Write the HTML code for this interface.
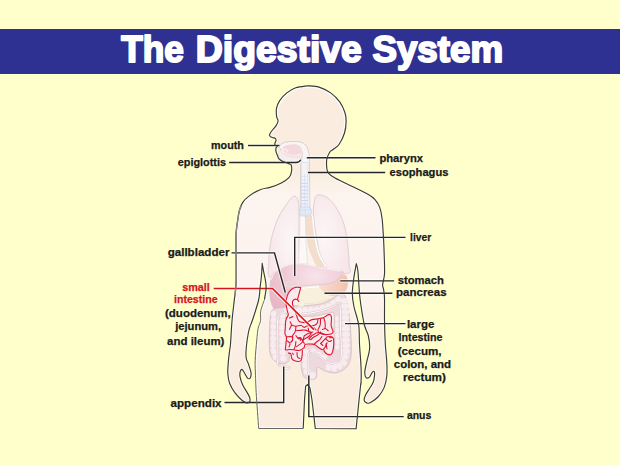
<!DOCTYPE html>
<html><head><meta charset="utf-8"><style>
html,body{margin:0;padding:0;background:#FFFFCC;}
body{width:620px;height:465px;overflow:hidden;position:relative;font-family:"Liberation Sans",sans-serif;}
svg{position:absolute;left:0;top:0;}
</style></head><body>
<svg width="620" height="465" viewBox="0 0 620 465">
<rect x="0" y="0" width="620" height="465" fill="#FFFFCC"/>
<rect x="0" y="29" width="620" height="45" fill="#2E3192"/>
<g font-family="Liberation Sans" font-weight="bold" font-size="37.5" fill="#FFFFFF" stroke="#FFFFFF" stroke-width="2.0" stroke-linejoin="round">
<text x="121.3" y="62.4" textLength="62.6" lengthAdjust="spacingAndGlyphs">The</text>
<text x="195.8" y="62.4" textLength="166.0" lengthAdjust="spacingAndGlyphs">Digestive</text>
<text x="372.5" y="62.4" textLength="130.5" lengthAdjust="spacingAndGlyphs">System</text>
</g>
<defs><linearGradient id="bodyg" gradientUnits="userSpaceOnUse" x1="0" y1="85" x2="0" y2="430">
<stop offset="0.252" stop-color="#FAEDDF"/><stop offset="0.319" stop-color="#FCF4EE"/><stop offset="0.594" stop-color="#FCF3EE"/><stop offset="0.826" stop-color="#FAEDDF"/></linearGradient>
<clipPath id="bodyclip"><path d="M307.4 85.8 C309.3 86.0 315.1 85.9 319.0 87.1 C322.9 88.3 327.2 90.4 330.6 92.9 C334.1 95.4 337.3 98.7 339.7 101.9 C342.1 105.1 343.7 109.1 344.8 112.3 C345.9 115.5 346.2 117.8 346.1 121.3 C346.1 124.8 345.7 129.1 344.5 133.0 C343.3 136.9 340.9 141.8 339.0 144.5 C337.1 147.2 334.5 148.2 333.0 149.5 C331.5 150.8 330.8 150.4 329.8 152.0 C328.8 153.6 327.3 156.9 326.8 159.2 C326.3 161.5 326.5 163.9 326.6 166.0 C326.7 168.1 326.8 169.9 327.5 171.5 C328.2 173.1 328.9 174.0 331.0 175.5 C333.1 177.0 336.4 178.8 340.0 180.6 C343.6 182.4 347.6 184.2 352.3 186.5 C357.0 188.8 364.6 192.3 368.4 194.5 C372.1 196.7 372.9 197.2 374.8 199.4 C376.7 201.6 378.5 204.2 379.7 207.4 C380.9 210.6 381.5 213.8 382.1 218.7 C382.7 223.5 383.0 230.4 383.4 236.5 C383.8 242.6 384.0 248.8 384.2 255.0 C384.4 261.2 384.8 269.1 384.5 274.0 C384.2 278.9 382.8 282.1 382.6 284.7 C382.5 287.3 383.3 287.2 383.6 289.5 C383.9 291.8 384.4 293.3 384.5 298.4 C384.6 303.5 384.4 312.4 384.5 320.0 C384.6 327.6 384.9 337.1 385.3 344.2 C385.7 351.3 386.6 357.6 386.8 362.9 C387.1 368.2 387.2 371.7 386.8 375.8 C386.4 379.9 385.6 383.9 384.2 387.4 C382.8 390.8 380.7 394.0 378.4 396.5 C376.1 399.0 372.5 401.5 370.6 402.6 C368.7 403.7 367.9 403.3 366.8 402.9 C365.7 402.5 364.4 401.6 364.2 400.3 C364.0 399.0 364.6 397.1 365.5 395.2 C366.4 393.3 368.1 390.8 369.4 388.7 C370.7 386.6 372.3 384.4 373.2 382.3 C374.1 380.2 374.3 377.6 374.5 375.8 C374.7 374.0 374.6 372.1 374.2 371.5 C373.8 370.9 373.2 371.3 372.4 372.2 C371.6 373.1 370.4 376.2 369.4 377.1 C368.3 378.0 366.9 378.6 366.1 377.7 C365.3 376.8 364.7 374.7 364.8 372.0 C364.9 369.3 366.0 365.4 366.8 361.6 C367.6 357.8 369.3 353.2 369.6 349.0 C369.9 344.8 369.3 340.1 368.4 336.1 C367.5 332.1 365.6 329.9 364.4 325.0 C363.2 320.1 361.9 311.8 361.1 306.5 C360.3 301.2 360.0 299.4 359.5 293.5 C359.0 287.6 358.4 276.0 357.9 271.0 C357.4 266.0 356.6 264.9 356.3 263.7 L356.3 263.7 C355.9 266.0 354.6 272.4 353.9 277.4 C353.2 282.4 352.3 288.6 352.3 293.5 C352.3 298.4 352.8 301.2 353.9 306.5 C355.0 311.8 357.8 318.7 358.7 325.0 C359.6 331.3 359.1 337.0 359.5 344.2 C359.9 351.4 360.9 361.8 361.1 368.4 C361.4 374.9 361.1 380.6 361.0 383.5 C360.9 386.4 361.3 378.5 360.5 386.0 C359.7 393.5 356.8 421.6 356.1 428.7 L315.3 428.5 L312.0 400.0 L310.0 388.0 L307.7 384.4 L305.6 386.3 L304.5 400.0 L303.2 428.5 L258.7 428.5 C258.3 422.5 256.7 401.4 256.2 392.6 C255.7 383.8 255.7 381.2 255.5 375.8 C255.3 370.4 255.0 366.3 255.2 360.3 C255.4 354.3 256.3 345.3 256.8 340.0 C257.3 334.7 257.5 331.6 258.1 328.4 C258.7 325.2 260.2 323.5 260.6 320.6 C261.0 317.7 260.1 314.7 260.7 311.2 C261.3 307.7 263.7 302.3 264.5 299.5 C265.3 296.7 265.0 296.2 265.3 294.4 C265.6 292.5 266.1 290.5 266.1 288.4 C266.2 286.2 266.0 284.1 265.6 281.5 C265.2 278.9 264.5 275.9 263.9 272.9 C263.3 269.9 262.5 265.0 262.2 263.4 L262.2 263.4 C262.1 265.7 261.7 273.0 261.3 277.2 C260.9 281.4 260.4 284.6 260.0 288.4 C259.6 292.2 259.9 294.7 258.6 300.0 C257.4 305.3 254.2 314.7 252.5 320.0 C250.8 325.3 249.6 326.1 248.5 332.0 C247.4 337.9 245.9 349.8 245.9 355.2 C245.9 360.6 247.7 361.3 248.5 364.2 C249.3 367.1 250.7 370.4 251.0 372.6 C251.3 374.9 250.9 376.7 250.4 377.7 C249.9 378.7 248.8 379.1 247.8 378.4 C246.8 377.6 245.6 374.7 244.6 373.2 C243.6 371.7 242.8 369.6 242.0 369.4 C241.2 369.2 240.4 370.6 240.1 371.9 C239.8 373.2 239.7 375.0 240.1 377.1 C240.5 379.2 241.4 382.2 242.6 384.8 C243.8 387.4 246.0 390.5 247.2 392.6 C248.4 394.8 249.3 396.2 249.7 397.7 C250.1 399.2 250.2 400.7 249.7 401.6 C249.2 402.5 247.9 403.2 246.5 402.9 C245.1 402.6 243.3 401.4 241.4 399.7 C239.5 398.0 236.9 395.3 234.9 392.6 C232.9 389.9 230.9 386.7 229.7 383.5 C228.5 380.3 228.0 377.1 227.8 373.2 C227.6 369.3 228.2 364.2 228.5 360.3 C228.8 356.4 229.4 352.7 229.7 350.0 C230.0 347.3 230.1 349.2 230.5 344.2 C230.9 339.2 231.4 327.6 232.1 320.0 C232.8 312.4 233.8 304.7 234.5 298.4 C235.2 292.1 235.8 290.4 236.1 282.3 C236.4 274.2 236.1 258.2 236.1 250.0 C236.1 241.8 235.8 238.1 236.1 233.2 C236.4 228.2 237.1 224.1 237.7 220.3 C238.2 216.5 238.6 213.6 239.4 210.6 C240.2 207.6 241.0 205.0 242.6 202.6 C244.2 200.2 246.1 198.2 249.0 196.1 C251.9 193.9 256.8 191.1 260.3 189.7 C263.8 188.2 266.5 188.5 270.0 187.4 C273.5 186.3 278.1 184.6 281.3 182.9 C284.5 181.2 287.5 179.2 289.2 177.3 C290.9 175.4 291.2 173.7 291.5 171.6 C291.8 169.5 291.7 166.3 291.2 165.0 C290.7 163.7 290.0 164.2 288.6 163.6 C287.2 163.0 284.6 162.3 283.0 161.5 C281.4 160.7 279.7 159.8 278.8 158.7 C277.9 157.6 277.9 156.4 277.4 155.2 C276.9 154.0 276.2 152.9 276.0 151.7 C275.8 150.5 275.8 149.1 276.0 148.2 C276.2 147.3 277.5 146.6 277.4 146.1 C277.3 145.6 275.7 145.9 275.3 145.4 C274.9 144.9 274.8 144.1 274.9 143.3 C275.0 142.5 275.9 141.3 276.0 140.5 C276.1 139.7 275.8 138.9 275.3 138.4 C274.8 137.9 274.0 138.0 273.2 137.7 C272.4 137.4 271.0 137.2 270.4 136.6 C269.8 136.0 269.3 135.3 269.7 134.2 C270.1 133.1 271.4 131.4 272.5 130.0 C273.6 128.6 275.1 127.4 276.0 125.9 C276.9 124.4 278.0 122.5 278.1 121.0 C278.2 119.5 277.0 118.9 276.7 116.8 C276.4 114.7 276.0 111.1 276.5 108.4 C277.0 105.7 278.0 103.2 279.7 100.6 C281.4 98.0 284.1 95.1 286.8 92.9 C289.5 90.8 292.4 88.9 295.8 87.7 C299.2 86.5 305.5 86.1 307.4 85.8Z"/></clipPath></defs>
<path d="M307.4 85.8 C309.3 86.0 315.1 85.9 319.0 87.1 C322.9 88.3 327.2 90.4 330.6 92.9 C334.1 95.4 337.3 98.7 339.7 101.9 C342.1 105.1 343.7 109.1 344.8 112.3 C345.9 115.5 346.2 117.8 346.1 121.3 C346.1 124.8 345.7 129.1 344.5 133.0 C343.3 136.9 340.9 141.8 339.0 144.5 C337.1 147.2 334.5 148.2 333.0 149.5 C331.5 150.8 330.8 150.4 329.8 152.0 C328.8 153.6 327.3 156.9 326.8 159.2 C326.3 161.5 326.5 163.9 326.6 166.0 C326.7 168.1 326.8 169.9 327.5 171.5 C328.2 173.1 328.9 174.0 331.0 175.5 C333.1 177.0 336.4 178.8 340.0 180.6 C343.6 182.4 347.6 184.2 352.3 186.5 C357.0 188.8 364.6 192.3 368.4 194.5 C372.1 196.7 372.9 197.2 374.8 199.4 C376.7 201.6 378.5 204.2 379.7 207.4 C380.9 210.6 381.5 213.8 382.1 218.7 C382.7 223.5 383.0 230.4 383.4 236.5 C383.8 242.6 384.0 248.8 384.2 255.0 C384.4 261.2 384.8 269.1 384.5 274.0 C384.2 278.9 382.8 282.1 382.6 284.7 C382.5 287.3 383.3 287.2 383.6 289.5 C383.9 291.8 384.4 293.3 384.5 298.4 C384.6 303.5 384.4 312.4 384.5 320.0 C384.6 327.6 384.9 337.1 385.3 344.2 C385.7 351.3 386.6 357.6 386.8 362.9 C387.1 368.2 387.2 371.7 386.8 375.8 C386.4 379.9 385.6 383.9 384.2 387.4 C382.8 390.8 380.7 394.0 378.4 396.5 C376.1 399.0 372.5 401.5 370.6 402.6 C368.7 403.7 367.9 403.3 366.8 402.9 C365.7 402.5 364.4 401.6 364.2 400.3 C364.0 399.0 364.6 397.1 365.5 395.2 C366.4 393.3 368.1 390.8 369.4 388.7 C370.7 386.6 372.3 384.4 373.2 382.3 C374.1 380.2 374.3 377.6 374.5 375.8 C374.7 374.0 374.6 372.1 374.2 371.5 C373.8 370.9 373.2 371.3 372.4 372.2 C371.6 373.1 370.4 376.2 369.4 377.1 C368.3 378.0 366.9 378.6 366.1 377.7 C365.3 376.8 364.7 374.7 364.8 372.0 C364.9 369.3 366.0 365.4 366.8 361.6 C367.6 357.8 369.3 353.2 369.6 349.0 C369.9 344.8 369.3 340.1 368.4 336.1 C367.5 332.1 365.6 329.9 364.4 325.0 C363.2 320.1 361.9 311.8 361.1 306.5 C360.3 301.2 360.0 299.4 359.5 293.5 C359.0 287.6 358.4 276.0 357.9 271.0 C357.4 266.0 356.6 264.9 356.3 263.7 L356.3 263.7 C355.9 266.0 354.6 272.4 353.9 277.4 C353.2 282.4 352.3 288.6 352.3 293.5 C352.3 298.4 352.8 301.2 353.9 306.5 C355.0 311.8 357.8 318.7 358.7 325.0 C359.6 331.3 359.1 337.0 359.5 344.2 C359.9 351.4 360.9 361.8 361.1 368.4 C361.4 374.9 361.1 380.6 361.0 383.5 C360.9 386.4 361.3 378.5 360.5 386.0 C359.7 393.5 356.8 421.6 356.1 428.7 L315.3 428.5 L312.0 400.0 L310.0 388.0 L307.7 384.4 L305.6 386.3 L304.5 400.0 L303.2 428.5 L258.7 428.5 C258.3 422.5 256.7 401.4 256.2 392.6 C255.7 383.8 255.7 381.2 255.5 375.8 C255.3 370.4 255.0 366.3 255.2 360.3 C255.4 354.3 256.3 345.3 256.8 340.0 C257.3 334.7 257.5 331.6 258.1 328.4 C258.7 325.2 260.2 323.5 260.6 320.6 C261.0 317.7 260.1 314.7 260.7 311.2 C261.3 307.7 263.7 302.3 264.5 299.5 C265.3 296.7 265.0 296.2 265.3 294.4 C265.6 292.5 266.1 290.5 266.1 288.4 C266.2 286.2 266.0 284.1 265.6 281.5 C265.2 278.9 264.5 275.9 263.9 272.9 C263.3 269.9 262.5 265.0 262.2 263.4 L262.2 263.4 C262.1 265.7 261.7 273.0 261.3 277.2 C260.9 281.4 260.4 284.6 260.0 288.4 C259.6 292.2 259.9 294.7 258.6 300.0 C257.4 305.3 254.2 314.7 252.5 320.0 C250.8 325.3 249.6 326.1 248.5 332.0 C247.4 337.9 245.9 349.8 245.9 355.2 C245.9 360.6 247.7 361.3 248.5 364.2 C249.3 367.1 250.7 370.4 251.0 372.6 C251.3 374.9 250.9 376.7 250.4 377.7 C249.9 378.7 248.8 379.1 247.8 378.4 C246.8 377.6 245.6 374.7 244.6 373.2 C243.6 371.7 242.8 369.6 242.0 369.4 C241.2 369.2 240.4 370.6 240.1 371.9 C239.8 373.2 239.7 375.0 240.1 377.1 C240.5 379.2 241.4 382.2 242.6 384.8 C243.8 387.4 246.0 390.5 247.2 392.6 C248.4 394.8 249.3 396.2 249.7 397.7 C250.1 399.2 250.2 400.7 249.7 401.6 C249.2 402.5 247.9 403.2 246.5 402.9 C245.1 402.6 243.3 401.4 241.4 399.7 C239.5 398.0 236.9 395.3 234.9 392.6 C232.9 389.9 230.9 386.7 229.7 383.5 C228.5 380.3 228.0 377.1 227.8 373.2 C227.6 369.3 228.2 364.2 228.5 360.3 C228.8 356.4 229.4 352.7 229.7 350.0 C230.0 347.3 230.1 349.2 230.5 344.2 C230.9 339.2 231.4 327.6 232.1 320.0 C232.8 312.4 233.8 304.7 234.5 298.4 C235.2 292.1 235.8 290.4 236.1 282.3 C236.4 274.2 236.1 258.2 236.1 250.0 C236.1 241.8 235.8 238.1 236.1 233.2 C236.4 228.2 237.1 224.1 237.7 220.3 C238.2 216.5 238.6 213.6 239.4 210.6 C240.2 207.6 241.0 205.0 242.6 202.6 C244.2 200.2 246.1 198.2 249.0 196.1 C251.9 193.9 256.8 191.1 260.3 189.7 C263.8 188.2 266.5 188.5 270.0 187.4 C273.5 186.3 278.1 184.6 281.3 182.9 C284.5 181.2 287.5 179.2 289.2 177.3 C290.9 175.4 291.2 173.7 291.5 171.6 C291.8 169.5 291.7 166.3 291.2 165.0 C290.7 163.7 290.0 164.2 288.6 163.6 C287.2 163.0 284.6 162.3 283.0 161.5 C281.4 160.7 279.7 159.8 278.8 158.7 C277.9 157.6 277.9 156.4 277.4 155.2 C276.9 154.0 276.2 152.9 276.0 151.7 C275.8 150.5 275.8 149.1 276.0 148.2 C276.2 147.3 277.5 146.6 277.4 146.1 C277.3 145.6 275.7 145.9 275.3 145.4 C274.9 144.9 274.8 144.1 274.9 143.3 C275.0 142.5 275.9 141.3 276.0 140.5 C276.1 139.7 275.8 138.9 275.3 138.4 C274.8 137.9 274.0 138.0 273.2 137.7 C272.4 137.4 271.0 137.2 270.4 136.6 C269.8 136.0 269.3 135.3 269.7 134.2 C270.1 133.1 271.4 131.4 272.5 130.0 C273.6 128.6 275.1 127.4 276.0 125.9 C276.9 124.4 278.0 122.5 278.1 121.0 C278.2 119.5 277.0 118.9 276.7 116.8 C276.4 114.7 276.0 111.1 276.5 108.4 C277.0 105.7 278.0 103.2 279.7 100.6 C281.4 98.0 284.1 95.1 286.8 92.9 C289.5 90.8 292.4 88.9 295.8 87.7 C299.2 86.5 305.5 86.1 307.4 85.8Z" fill="url(#bodyg)" stroke="none"/>
<path d="M307.4 85.8 C309.3 86.0 315.1 85.9 319.0 87.1 C322.9 88.3 327.2 90.4 330.6 92.9 C334.1 95.4 337.3 98.7 339.7 101.9 C342.1 105.1 343.7 109.1 344.8 112.3 C345.9 115.5 346.2 117.8 346.1 121.3 C346.1 124.8 345.7 129.1 344.5 133.0 C343.3 136.9 340.9 141.8 339.0 144.5 C337.1 147.2 334.5 148.2 333.0 149.5 C331.5 150.8 330.8 150.4 329.8 152.0 C328.8 153.6 327.3 156.9 326.8 159.2 C326.3 161.5 326.5 163.9 326.6 166.0 C326.7 168.1 326.8 169.9 327.5 171.5 C328.2 173.1 328.9 174.0 331.0 175.5 C333.1 177.0 336.4 178.8 340.0 180.6 C343.6 182.4 347.6 184.2 352.3 186.5 C357.0 188.8 364.6 192.3 368.4 194.5 C372.1 196.7 372.9 197.2 374.8 199.4 C376.7 201.6 378.5 204.2 379.7 207.4 C380.9 210.6 381.5 213.8 382.1 218.7 C382.7 223.5 383.0 230.4 383.4 236.5 C383.8 242.6 384.0 248.8 384.2 255.0 C384.4 261.2 384.8 269.1 384.5 274.0 C384.2 278.9 382.8 282.1 382.6 284.7 C382.5 287.3 383.3 287.2 383.6 289.5 C383.9 291.8 384.4 293.3 384.5 298.4 C384.6 303.5 384.4 312.4 384.5 320.0 C384.6 327.6 384.9 337.1 385.3 344.2 C385.7 351.3 386.6 357.6 386.8 362.9 C387.1 368.2 387.2 371.7 386.8 375.8 C386.4 379.9 385.6 383.9 384.2 387.4 C382.8 390.8 380.7 394.0 378.4 396.5 C376.1 399.0 372.5 401.5 370.6 402.6 C368.7 403.7 367.9 403.3 366.8 402.9 C365.7 402.5 364.4 401.6 364.2 400.3 C364.0 399.0 364.6 397.1 365.5 395.2 C366.4 393.3 368.1 390.8 369.4 388.7 C370.7 386.6 372.3 384.4 373.2 382.3 C374.1 380.2 374.3 377.6 374.5 375.8 C374.7 374.0 374.6 372.1 374.2 371.5 C373.8 370.9 373.2 371.3 372.4 372.2 C371.6 373.1 370.4 376.2 369.4 377.1 C368.3 378.0 366.9 378.6 366.1 377.7 C365.3 376.8 364.7 374.7 364.8 372.0 C364.9 369.3 366.0 365.4 366.8 361.6 C367.6 357.8 369.3 353.2 369.6 349.0 C369.9 344.8 369.3 340.1 368.4 336.1 C367.5 332.1 365.6 329.9 364.4 325.0 C363.2 320.1 361.9 311.8 361.1 306.5 C360.3 301.2 360.0 299.4 359.5 293.5 C359.0 287.6 358.4 276.0 357.9 271.0 C357.4 266.0 356.6 264.9 356.3 263.7 L356.3 263.7 C355.9 266.0 354.6 272.4 353.9 277.4 C353.2 282.4 352.3 288.6 352.3 293.5 C352.3 298.4 352.8 301.2 353.9 306.5 C355.0 311.8 357.8 318.7 358.7 325.0 C359.6 331.3 359.1 337.0 359.5 344.2 C359.9 351.4 360.9 361.8 361.1 368.4 C361.4 374.9 361.1 380.6 361.0 383.5 C360.9 386.4 361.3 378.5 360.5 386.0 C359.7 393.5 356.8 421.6 356.1 428.7 L315.3 428.5 L312.0 400.0 L310.0 388.0 L307.7 384.4 L305.6 386.3 L304.5 400.0 L303.2 428.5 L258.7 428.5 C258.3 422.5 256.7 401.4 256.2 392.6 C255.7 383.8 255.7 381.2 255.5 375.8 C255.3 370.4 255.0 366.3 255.2 360.3 C255.4 354.3 256.3 345.3 256.8 340.0 C257.3 334.7 257.5 331.6 258.1 328.4 C258.7 325.2 260.2 323.5 260.6 320.6 C261.0 317.7 260.1 314.7 260.7 311.2 C261.3 307.7 263.7 302.3 264.5 299.5 C265.3 296.7 265.0 296.2 265.3 294.4 C265.6 292.5 266.1 290.5 266.1 288.4 C266.2 286.2 266.0 284.1 265.6 281.5 C265.2 278.9 264.5 275.9 263.9 272.9 C263.3 269.9 262.5 265.0 262.2 263.4 L262.2 263.4 C262.1 265.7 261.7 273.0 261.3 277.2 C260.9 281.4 260.4 284.6 260.0 288.4 C259.6 292.2 259.9 294.7 258.6 300.0 C257.4 305.3 254.2 314.7 252.5 320.0 C250.8 325.3 249.6 326.1 248.5 332.0 C247.4 337.9 245.9 349.8 245.9 355.2 C245.9 360.6 247.7 361.3 248.5 364.2 C249.3 367.1 250.7 370.4 251.0 372.6 C251.3 374.9 250.9 376.7 250.4 377.7 C249.9 378.7 248.8 379.1 247.8 378.4 C246.8 377.6 245.6 374.7 244.6 373.2 C243.6 371.7 242.8 369.6 242.0 369.4 C241.2 369.2 240.4 370.6 240.1 371.9 C239.8 373.2 239.7 375.0 240.1 377.1 C240.5 379.2 241.4 382.2 242.6 384.8 C243.8 387.4 246.0 390.5 247.2 392.6 C248.4 394.8 249.3 396.2 249.7 397.7 C250.1 399.2 250.2 400.7 249.7 401.6 C249.2 402.5 247.9 403.2 246.5 402.9 C245.1 402.6 243.3 401.4 241.4 399.7 C239.5 398.0 236.9 395.3 234.9 392.6 C232.9 389.9 230.9 386.7 229.7 383.5 C228.5 380.3 228.0 377.1 227.8 373.2 C227.6 369.3 228.2 364.2 228.5 360.3 C228.8 356.4 229.4 352.7 229.7 350.0 C230.0 347.3 230.1 349.2 230.5 344.2 C230.9 339.2 231.4 327.6 232.1 320.0 C232.8 312.4 233.8 304.7 234.5 298.4 C235.2 292.1 235.8 290.4 236.1 282.3 C236.4 274.2 236.1 258.2 236.1 250.0 C236.1 241.8 235.8 238.1 236.1 233.2 C236.4 228.2 237.1 224.1 237.7 220.3 C238.2 216.5 238.6 213.6 239.4 210.6 C240.2 207.6 241.0 205.0 242.6 202.6 C244.2 200.2 246.1 198.2 249.0 196.1 C251.9 193.9 256.8 191.1 260.3 189.7 C263.8 188.2 266.5 188.5 270.0 187.4 C273.5 186.3 278.1 184.6 281.3 182.9 C284.5 181.2 287.5 179.2 289.2 177.3 C290.9 175.4 291.2 173.7 291.5 171.6 C291.8 169.5 291.7 166.3 291.2 165.0 C290.7 163.7 290.0 164.2 288.6 163.6 C287.2 163.0 284.6 162.3 283.0 161.5 C281.4 160.7 279.7 159.8 278.8 158.7 C277.9 157.6 277.9 156.4 277.4 155.2 C276.9 154.0 276.2 152.9 276.0 151.7 C275.8 150.5 275.8 149.1 276.0 148.2 C276.2 147.3 277.5 146.6 277.4 146.1 C277.3 145.6 275.7 145.9 275.3 145.4 C274.9 144.9 274.8 144.1 274.9 143.3 C275.0 142.5 275.9 141.3 276.0 140.5 C276.1 139.7 275.8 138.9 275.3 138.4 C274.8 137.9 274.0 138.0 273.2 137.7 C272.4 137.4 271.0 137.2 270.4 136.6 C269.8 136.0 269.3 135.3 269.7 134.2 C270.1 133.1 271.4 131.4 272.5 130.0 C273.6 128.6 275.1 127.4 276.0 125.9 C276.9 124.4 278.0 122.5 278.1 121.0 C278.2 119.5 277.0 118.9 276.7 116.8 C276.4 114.7 276.0 111.1 276.5 108.4 C277.0 105.7 278.0 103.2 279.7 100.6 C281.4 98.0 284.1 95.1 286.8 92.9 C289.5 90.8 292.4 88.9 295.8 87.7 C299.2 86.5 305.5 86.1 307.4 85.8Z" fill="none" stroke="#FFFFFF" stroke-width="3.2" opacity="0.75" clip-path="url(#bodyclip)"/>
<path d="M279.0 121.0 C278.8 120.2 278.0 118.6 277.8 116.5 C277.6 114.4 277.2 111.1 277.7 108.6 C278.2 106.1 279.2 103.9 280.9 101.5 C282.5 99.1 285.0 96.3 287.6 94.2 C290.2 92.1 293.2 90.2 296.5 89.0 C299.8 87.8 303.7 87.1 307.4 87.0 C311.1 86.9 315.0 87.1 318.7 88.3 C322.4 89.5 326.5 91.6 329.8 94.0 C333.1 96.4 336.4 99.6 338.7 102.7 C341.0 105.8 342.6 109.5 343.6 112.6 C344.6 115.7 344.9 118.4 344.9 121.3 C344.9 124.2 344.0 128.6 343.8 130.0" fill="none" stroke="#FFFFFF" stroke-width="1.2" stroke-linecap="round" opacity="0.9"/>
<defs><radialGradient id="lg" cx="0.62" cy="0.25" r="0.75"><stop offset="0" stop-color="#F8E4EB"/><stop offset="0.55" stop-color="#F0CBD6"/><stop offset="1" stop-color="#E9B6C5"/></radialGradient><linearGradient id="sg" x1="0" y1="0" x2="1" y2="0"><stop offset="0" stop-color="#F7DFD4"/><stop offset="0.55" stop-color="#F5CFBF"/><stop offset="1" stop-color="#F2C2AE"/></linearGradient><linearGradient id="tg" x1="0" y1="0" x2="0" y2="1"><stop offset="0" stop-color="#F7F0F1"/><stop offset="0.3" stop-color="#F3F4F9"/><stop offset="1" stop-color="#EDF1F9"/></linearGradient><radialGradient id="lungg" cx="0.7" cy="0.55" r="0.7"><stop offset="0" stop-color="#FCF6F7"/><stop offset="1" stop-color="#F7E5E9"/></radialGradient><radialGradient id="lungg2" cx="0.3" cy="0.55" r="0.7"><stop offset="0" stop-color="#FCF6F7"/><stop offset="1" stop-color="#F7E5E9"/></radialGradient></defs>
<path d="M293.6 196.3 C295.9 195.3 297.3 197.9 298.2 201.0 C299.1 204.1 298.8 207.7 298.9 215.0 C299.0 222.3 299.0 235.2 299.0 245.0 C299.0 254.8 301.3 268.8 299.0 274.0 C296.7 279.2 289.9 275.5 285.0 276.0 C280.1 276.5 272.2 279.3 269.5 277.0 C266.8 274.7 268.8 266.5 268.8 262.0 C268.8 257.5 269.0 254.2 269.5 250.0 C270.0 245.8 270.6 242.0 271.8 237.1 C273.1 232.2 274.9 225.6 277.0 220.6 C279.1 215.6 281.8 211.1 284.6 207.0 C287.4 202.9 291.3 197.3 293.6 196.3Z" fill="url(#lungg)" stroke="#D9CDD0" stroke-width="0.9" />
<path d="M318.2 194.8 C315.6 195.2 315.1 197.7 314.3 201.6 C313.5 205.5 313.1 211.6 313.5 218.0 C313.9 224.4 315.6 232.7 317.0 240.0 C318.4 247.3 319.5 256.7 322.0 262.0 C324.5 267.3 327.5 270.2 332.0 272.0 C336.5 273.8 346.3 274.2 349.2 273.0 C352.1 271.8 349.4 269.2 349.2 265.0 C349.0 260.8 348.8 254.1 348.1 248.0 C347.4 241.9 346.6 234.5 345.2 228.7 C343.8 222.9 342.0 218.1 339.4 213.2 C336.8 208.3 333.2 202.6 329.7 199.5 C326.2 196.4 320.8 194.5 318.2 194.8Z" fill="url(#lungg2)" stroke="#D9CDD0" stroke-width="0.9" />
<path d="M279.5 146.2 C280.2 145.6 281.3 143.6 283.5 142.8 C285.7 142.0 289.6 141.6 292.6 141.5 C295.6 141.4 299.3 141.6 301.6 142.4 C303.9 143.2 305.4 144.7 306.6 146.5 C307.8 148.3 308.4 150.8 308.9 153.5 C309.4 156.2 309.3 158.2 309.4 162.6 C309.5 167.0 309.5 173.8 309.6 180.0 C309.7 186.2 309.7 193.8 309.8 200.0 C309.9 206.2 310.3 214.2 310.4 217.0 L300.2 217.0 C300.2 214.2 300.2 206.2 300.3 200.0 C300.4 193.8 300.5 185.7 300.6 180.0 C300.7 174.3 300.6 169.7 300.8 166.0 C301.0 162.3 301.6 160.3 301.8 158.0 C302.0 155.7 302.7 153.5 302.2 152.0 C301.7 150.5 300.7 149.6 299.0 148.8 C297.3 148.0 294.5 147.5 292.0 147.4 C289.5 147.3 285.9 147.8 284.0 148.2 C282.1 148.6 281.1 149.7 280.5 150.0Z" fill="#FAF5F5" stroke="#CFC7C8" stroke-width="0.8" />
<path d="M283.8 146.5 C285.0 145.8 287.7 144.9 290.0 144.6 C292.3 144.3 295.6 144.2 297.5 144.8 C299.4 145.4 301.0 146.9 301.6 148.2 C302.2 149.5 302.1 151.4 301.2 152.5 C300.3 153.6 298.0 154.3 296.0 154.6 C294.0 154.9 290.9 154.7 289.0 154.2 C287.1 153.7 285.6 152.7 284.5 151.8 C283.4 150.9 282.7 149.9 282.6 149.0 C282.5 148.1 282.6 147.2 283.8 146.5Z" fill="#F3D8DE" stroke="none" stroke-width="1" />
<path d="M284.5 152.0 C285.4 151.8 287.9 154.0 290.0 154.5 C292.1 155.0 295.2 155.2 297.0 155.0 C298.8 154.8 300.2 153.2 301.0 153.5 C301.8 153.8 302.2 156.2 301.5 157.0 C300.8 157.8 298.6 158.3 296.5 158.5 C294.4 158.7 291.0 158.5 289.0 158.0 C287.0 157.5 285.2 156.5 284.5 155.5 C283.8 154.5 283.6 152.2 284.5 152.0Z" fill="#F6E6E9" stroke="none" stroke-width="1" />
<path d="M279.2 151.5 C279.9 151.0 282.2 153.6 284.0 154.5 C285.8 155.4 287.9 156.5 290.0 157.0 C292.1 157.5 294.8 157.2 296.5 157.4 C298.2 157.7 299.9 157.8 300.5 158.5 C301.1 159.2 301.2 160.8 299.8 161.5 C298.4 162.2 294.5 162.6 292.0 162.5 C289.5 162.4 287.1 162.0 285.0 161.2 C282.9 160.4 280.6 159.1 279.6 157.5 C278.6 155.9 278.5 152.0 279.2 151.5Z" fill="#F6EEEE" stroke="#E3DADA" stroke-width="0.6" />
<path d="M280.5 147.5 C280.9 147.8 282.1 149.2 283.0 149.5 C283.9 149.8 285.2 148.9 286.0 149.2 C286.8 149.5 287.2 151.1 287.5 151.5" fill="none" stroke="#FFFFFF" stroke-width="0.9" stroke-linecap="round"/>
<path d="M300.0 216.0 C299.9 219.2 299.8 229.3 299.6 235.0 C299.4 240.7 299.2 245.2 299.0 250.0 C298.8 254.8 298.7 261.7 298.6 264.0 L307.6 264.0 C307.4 261.7 306.8 254.8 306.5 250.0 C306.2 245.2 305.9 240.7 305.8 235.0 C305.7 229.3 305.6 219.2 305.6 216.0Z" fill="#FCF8F7" stroke="#E2DADA" stroke-width="0.8" />
<path d="M305.5 216.0 C305.7 218.7 305.9 226.7 306.5 232.0 C307.1 237.3 307.8 243.5 309.0 248.0 C310.2 252.5 312.1 255.7 313.5 259.0 C314.9 262.3 316.8 266.5 317.5 268.0 L324.5 267.0 C323.5 265.2 320.1 260.0 318.5 256.0 C316.9 252.0 315.9 247.5 315.0 243.0 C314.1 238.5 313.3 233.5 312.8 229.0 C312.3 224.5 312.0 218.2 311.9 216.0Z" fill="#F4DEC9" stroke="#E6D8D2" stroke-width="0.7" />
<path d="M312.8 216.0 C313.0 218.2 313.2 224.5 313.8 229.0 C314.4 233.5 315.2 238.5 316.2 243.0 C317.2 247.5 318.2 252.0 319.8 256.0 C321.4 260.0 325.0 265.2 326.0 267.0" fill="none" stroke="#FFFFFF" stroke-width="1.3" />
<path d="M314.0 216.0 C314.2 218.2 314.4 224.5 315.0 229.0 C315.6 233.5 316.4 238.5 317.4 243.0 C318.4 247.5 319.4 252.0 321.0 256.0 C322.6 260.0 326.2 265.2 327.2 267.0" fill="none" stroke="#E0D6D8" stroke-width="0.6" />
<rect x="301.3" y="162.5" width="6.6" height="45" fill="url(#tg)" stroke="#D2DCEE" stroke-width="0.7"/>
<path d="M301.3 176.4H307.9" stroke="#C9D6EC" stroke-width="1" opacity="0.5"/>
<path d="M301.3 179.8H307.9" stroke="#C9D6EC" stroke-width="1" opacity="0.5"/>
<path d="M301.3 183.3H307.9" stroke="#C9D6EC" stroke-width="1" opacity="1"/>
<path d="M301.3 186.7H307.9" stroke="#C9D6EC" stroke-width="1" opacity="1"/>
<path d="M301.3 190.2H307.9" stroke="#C9D6EC" stroke-width="1" opacity="1"/>
<path d="M301.3 193.6H307.9" stroke="#C9D6EC" stroke-width="1" opacity="1"/>
<path d="M301.3 197.1H307.9" stroke="#C9D6EC" stroke-width="1" opacity="1"/>
<path d="M301.3 200.5H307.9" stroke="#C9D6EC" stroke-width="1" opacity="1"/>
<path d="M301.3 204.0H307.9" stroke="#C9D6EC" stroke-width="1" opacity="1"/>
<path d="M304.6 174V208" stroke="#D4DDEF" stroke-width="0.7"/>
<path d="M301.2 207 L299.7 209.5 L299.8 213.8 L301 214.6 L305.2 216.4 L311.3 213.8 L311.3 209.5 L309.3 207Z" fill="#E2EAF6" stroke="#C4D2EA" stroke-width="0.7"/>
<path d="M299.9 209.8 L311.1 209.8 M305.2 209.8 V216" stroke="#CAD6EC" stroke-width="0.6" fill="none"/>
<path d="M299.5 289.0 C301.9 287.9 307.6 287.8 312.0 287.5 C316.4 287.2 322.0 287.3 326.0 287.5 C330.0 287.7 333.5 287.8 336.0 288.5 C338.5 289.2 340.5 290.3 341.0 291.5 C341.5 292.7 340.8 294.2 339.0 295.5 C337.2 296.8 333.5 297.8 330.0 299.0 C326.5 300.2 322.0 301.8 318.0 302.5 C314.0 303.2 309.1 303.9 306.0 303.5 C302.9 303.1 300.9 301.6 299.5 300.0 C298.1 298.4 297.5 295.8 297.5 294.0 C297.5 292.2 297.1 290.1 299.5 289.0Z" fill="#F8F0DA" stroke="#E8DFCF" stroke-width="0.7" />
<path d="M300.0 288.6 C302.5 288.4 310.0 287.4 315.0 287.2 C320.0 287.0 325.8 286.9 330.0 287.4 C334.2 287.9 338.3 289.6 340.0 290.0" fill="none" stroke="#FFFFFF" stroke-width="1.1" />
<path d="M320.0 281.0 C321.3 279.4 324.5 278.3 327.0 277.5 C329.5 276.7 332.7 276.4 335.0 276.0 C337.3 275.6 339.4 275.2 341.0 275.0 C342.6 274.8 343.8 274.1 344.8 274.6 C345.8 275.1 346.7 276.5 347.2 278.0 C347.7 279.5 348.0 281.6 347.9 283.5 C347.8 285.4 347.2 287.9 346.3 289.7 C345.4 291.5 343.9 293.2 342.2 294.3 C340.5 295.4 338.2 296.0 336.0 296.2 C333.8 296.4 331.0 296.2 329.0 295.5 C327.0 294.8 325.7 293.4 324.0 292.0 C322.3 290.6 319.7 288.8 319.0 287.0 C318.3 285.2 318.7 282.6 320.0 281.0Z" fill="url(#sg)" stroke="none" stroke-width="1" />
<path d="M270.6 281.0 C271.2 277.6 272.2 275.0 273.6 273.0 C275.0 271.0 276.4 270.5 278.8 269.2 C281.2 267.9 284.6 266.2 287.8 265.3 C291.0 264.4 294.8 263.7 298.1 263.6 C301.5 263.6 304.1 264.2 307.9 265.0 C311.7 265.8 316.5 267.3 320.8 268.2 C325.1 269.1 330.2 269.7 333.7 270.1 C337.1 270.6 339.9 270.4 341.5 270.9 C343.1 271.4 343.4 272.0 343.2 273.0 C342.9 274.0 341.4 275.6 340.0 277.0 C338.6 278.4 337.2 280.3 335.0 281.5 C332.8 282.7 329.4 283.5 327.0 284.0 C324.6 284.5 324.0 284.2 320.8 284.5 C317.6 284.8 311.3 285.4 307.9 285.8 C304.5 286.2 302.7 285.9 300.2 286.6 C297.7 287.3 294.8 288.1 293.0 290.0 C291.2 291.9 290.2 295.0 289.5 298.0 C288.8 301.0 289.4 305.3 288.5 308.0 C287.6 310.7 286.1 313.4 284.0 314.0 C281.9 314.6 278.2 313.5 276.2 311.8 C274.1 310.1 272.8 307.0 271.7 304.0 C270.6 301.0 269.9 297.5 269.7 293.7 C269.5 289.9 270.0 284.4 270.6 281.0Z" fill="url(#lg)" stroke="#D9C5CB" stroke-width="0.8" />
<path d="M271.0 280.0 C271.6 278.8 273.0 274.4 274.5 272.5 C276.0 270.6 277.8 269.8 280.0 268.6 C282.2 267.4 285.0 266.0 288.0 265.2 C291.0 264.4 294.8 263.7 298.1 263.7 C301.4 263.7 304.2 264.2 308.0 265.0 C311.8 265.8 316.7 267.3 321.0 268.2 C325.3 269.1 330.6 269.7 334.0 270.1 C337.4 270.6 340.2 270.8 341.5 270.9" fill="none" stroke="#F9EEF1" stroke-width="1.2" opacity="0.9"/>
<path d="M285.5 285.5 C285.7 285.1 286.0 283.7 286.5 283.0 C287.0 282.3 287.8 281.5 288.6 281.5 C289.4 281.5 290.3 283.3 291.2 283.2 C292.1 283.1 293.3 281.6 294.2 281.0 C295.1 280.4 295.8 279.6 296.4 279.7 C297.0 279.8 297.8 280.7 298.0 281.5 C298.2 282.3 298.2 283.7 297.4 284.5 C296.6 285.3 294.6 285.9 293.0 286.2 C291.4 286.5 289.2 286.3 288.0 286.2 C286.8 286.1 285.9 285.6 285.5 285.5" fill="none" stroke="#E3EBDA" stroke-width="1.0" />
<path d="M272.0 310.5 C271.0 312.1 270.6 314.8 270.2 318.0 C269.8 321.2 269.8 325.7 269.6 330.0 C269.5 334.3 269.2 339.6 269.3 343.7 C269.4 347.8 269.5 351.5 270.3 354.3 C271.1 357.1 272.4 358.8 274.0 360.3 C275.6 361.9 277.9 363.2 280.0 363.6 C282.1 364.1 284.9 363.9 286.5 363.0 C288.1 362.1 289.2 361.8 289.5 358.0 C289.8 354.2 288.9 346.0 288.5 340.0 C288.1 334.0 287.2 326.0 287.0 322.0 C286.8 318.0 284.8 316.9 287.0 316.0 C289.2 315.1 295.3 316.5 300.0 316.5 C304.7 316.5 310.0 316.6 315.0 316.0 C320.0 315.4 326.8 313.3 330.0 313.0 C333.2 312.7 333.3 311.2 334.0 314.0 C334.7 316.8 334.0 324.8 334.0 330.0 C334.0 335.2 334.2 341.2 334.0 345.0 C333.8 348.8 334.0 351.4 333.0 353.0 C332.0 354.6 329.8 354.9 328.0 354.5 C326.2 354.1 324.3 351.8 322.2 350.4 C320.1 348.9 317.3 346.7 315.1 345.8 C312.9 344.9 311.0 344.7 309.2 345.2 C307.4 345.7 305.4 347.0 304.2 349.0 C303.0 351.0 302.3 354.4 301.8 357.2 C301.3 359.9 301.0 362.5 301.2 365.5 C301.4 368.5 302.1 372.8 303.0 375.0 C303.9 377.2 305.2 377.9 306.8 378.6 C308.4 379.3 311.2 379.4 312.8 379.2 C314.4 379.0 315.6 379.1 316.3 377.3 C317.0 375.5 316.5 370.1 316.9 368.5 C317.3 366.9 317.4 367.0 318.7 367.4 C320.0 367.8 322.1 369.9 324.6 370.8 C327.2 371.7 331.1 373.0 334.0 373.0 C336.9 373.0 339.9 372.0 342.3 370.6 C344.7 369.2 346.8 367.5 348.3 364.7 C349.8 361.9 350.8 359.5 351.2 353.7 C351.6 347.9 350.9 336.2 350.6 330.0 C350.3 323.8 349.9 321.0 349.3 316.5 C348.7 312.0 347.7 306.4 347.0 303.0 C346.3 299.6 345.8 297.6 345.0 296.0 C344.2 294.4 343.2 293.7 342.0 293.5 C340.8 293.3 340.0 293.9 338.0 295.0 C336.0 296.1 333.0 298.5 330.0 300.0 C327.0 301.5 324.2 303.1 320.0 304.0 C315.8 304.9 309.7 305.2 305.0 305.5 C300.3 305.8 295.8 305.7 292.0 306.0 C288.2 306.3 284.7 307.1 282.0 307.5 C279.3 307.9 277.7 308.0 276.0 308.5 C274.3 309.0 273.0 308.9 272.0 310.5Z" fill="#EED9DE" stroke="#D6C4C9" stroke-width="1" />
<ellipse cx="273.5" cy="314.1" rx="3.1" ry="2.7" transform="rotate(91 273.5 314.1)" fill="#F8ECEF" opacity="1"/>
<ellipse cx="273.4" cy="320.3" rx="3.1" ry="2.7" transform="rotate(91 273.4 320.3)" fill="#F8ECEF" opacity="1"/>
<ellipse cx="273.3" cy="326.5" rx="3.1" ry="2.7" transform="rotate(91 273.3 326.5)" fill="#F8ECEF" opacity="1"/>
<ellipse cx="273.2" cy="332.7" rx="3.1" ry="2.7" transform="rotate(90 273.2 332.7)" fill="#F8ECEF" opacity="1"/>
<ellipse cx="273.2" cy="338.9" rx="3.1" ry="2.7" transform="rotate(90 273.2 338.9)" fill="#F8ECEF" opacity="1"/>
<ellipse cx="273.2" cy="345.1" rx="3.1" ry="2.7" transform="rotate(90 273.2 345.1)" fill="#F8ECEF" opacity="1"/>
<ellipse cx="273.6" cy="351.2" rx="3.1" ry="2.7" transform="rotate(73 273.6 351.2)" fill="#F8ECEF" opacity="1"/>
<ellipse cx="275.4" cy="357.2" rx="3.1" ry="2.7" transform="rotate(73 275.4 357.2)" fill="#F8ECEF" opacity="1"/>
<ellipse cx="282.5" cy="315.1" rx="3.1" ry="3.2" transform="rotate(90 282.5 315.1)" fill="#F8ECEF" opacity="1"/>
<ellipse cx="282.5" cy="321.3" rx="3.1" ry="3.2" transform="rotate(90 282.5 321.3)" fill="#F8ECEF" opacity="1"/>
<ellipse cx="282.5" cy="327.5" rx="3.1" ry="3.2" transform="rotate(90 282.5 327.5)" fill="#F8ECEF" opacity="1"/>
<ellipse cx="282.5" cy="333.7" rx="3.1" ry="3.2" transform="rotate(90 282.5 333.7)" fill="#F8ECEF" opacity="1"/>
<ellipse cx="282.5" cy="339.9" rx="3.1" ry="3.2" transform="rotate(90 282.5 339.9)" fill="#F8ECEF" opacity="1"/>
<ellipse cx="282.5" cy="346.1" rx="3.1" ry="3.2" transform="rotate(90 282.5 346.1)" fill="#F8ECEF" opacity="1"/>
<ellipse cx="282.7" cy="352.3" rx="3.1" ry="3.2" transform="rotate(84 282.7 352.3)" fill="#F8ECEF" opacity="1"/>
<ellipse cx="283.3" cy="358.5" rx="3.1" ry="3.2" transform="rotate(84 283.3 358.5)" fill="#F8ECEF" opacity="1"/>
<ellipse cx="287.0" cy="310.5" rx="3.0" ry="3.2" transform="rotate(0 287.0 310.5)" fill="#F8ECEF" opacity="1"/>
<ellipse cx="293.0" cy="310.5" rx="3.0" ry="3.2" transform="rotate(0 293.0 310.5)" fill="#F8ECEF" opacity="1"/>
<ellipse cx="299.0" cy="310.5" rx="3.0" ry="3.2" transform="rotate(0 299.0 310.5)" fill="#F8ECEF" opacity="1"/>
<ellipse cx="305.0" cy="310.2" rx="3.0" ry="3.2" transform="rotate(-3 305.0 310.2)" fill="#F8ECEF" opacity="1"/>
<ellipse cx="311.0" cy="309.9" rx="3.0" ry="3.2" transform="rotate(-3 311.0 309.9)" fill="#F8ECEF" opacity="1"/>
<ellipse cx="317.0" cy="309.6" rx="3.0" ry="3.2" transform="rotate(-3 317.0 309.6)" fill="#F8ECEF" opacity="1"/>
<ellipse cx="322.8" cy="308.1" rx="3.0" ry="3.2" transform="rotate(-16 322.8 308.1)" fill="#F8ECEF" opacity="1"/>
<ellipse cx="328.5" cy="306.4" rx="3.0" ry="3.2" transform="rotate(-16 328.5 306.4)" fill="#F8ECEF" opacity="1"/>
<ellipse cx="333.5" cy="303.3" rx="3.0" ry="3.2" transform="rotate(-38 333.5 303.3)" fill="#F8ECEF" opacity="1"/>
<ellipse cx="338.3" cy="299.6" rx="3.0" ry="3.2" transform="rotate(-38 338.3 299.6)" fill="#F8ECEF" opacity="1"/>
<ellipse cx="344.7" cy="300.8" rx="2.8" ry="4.0" transform="rotate(86 344.7 300.8)" fill="#F8ECEF" opacity="1"/>
<ellipse cx="345.1" cy="306.4" rx="2.8" ry="4.0" transform="rotate(86 345.1 306.4)" fill="#F8ECEF" opacity="1"/>
<ellipse cx="345.3" cy="312.0" rx="2.8" ry="4.0" transform="rotate(89 345.3 312.0)" fill="#F8ECEF" opacity="1"/>
<ellipse cx="345.5" cy="317.6" rx="2.8" ry="4.0" transform="rotate(89 345.5 317.6)" fill="#F8ECEF" opacity="1"/>
<ellipse cx="345.6" cy="323.2" rx="2.8" ry="4.0" transform="rotate(89 345.6 323.2)" fill="#F8ECEF" opacity="1"/>
<ellipse cx="345.8" cy="328.8" rx="2.8" ry="4.0" transform="rotate(89 345.8 328.8)" fill="#F8ECEF" opacity="1"/>
<ellipse cx="345.8" cy="334.4" rx="2.8" ry="4.0" transform="rotate(89 345.8 334.4)" fill="#F8ECEF" opacity="1"/>
<ellipse cx="345.9" cy="340.0" rx="2.8" ry="4.0" transform="rotate(89 345.9 340.0)" fill="#F8ECEF" opacity="1"/>
<ellipse cx="346.0" cy="345.6" rx="2.8" ry="4.0" transform="rotate(89 346.0 345.6)" fill="#F8ECEF" opacity="1"/>
<ellipse cx="345.8" cy="351.1" rx="2.8" ry="4.0" transform="rotate(102 345.8 351.1)" fill="#F8ECEF" opacity="1"/>
<ellipse cx="344.6" cy="356.6" rx="2.8" ry="4.0" transform="rotate(102 344.6 356.6)" fill="#F8ECEF" opacity="1"/>
<ellipse cx="343.4" cy="362.1" rx="2.8" ry="4.0" transform="rotate(142 343.4 362.1)" fill="#F8ECEF" opacity="1"/>
<ellipse cx="339.0" cy="365.5" rx="2.8" ry="4.0" transform="rotate(142 339.0 365.5)" fill="#F8ECEF" opacity="1"/>
<ellipse cx="334.2" cy="367.5" rx="2.8" ry="4.0" transform="rotate(-172 334.2 367.5)" fill="#F8ECEF" opacity="1"/>
<ellipse cx="328.6" cy="366.7" rx="2.8" ry="4.0" transform="rotate(-172 328.6 366.7)" fill="#F8ECEF" opacity="1"/>
<ellipse cx="336.9" cy="318.8" rx="2.8" ry="2.0" transform="rotate(89 336.9 318.8)" fill="#F8ECEF" opacity="1"/>
<ellipse cx="337.0" cy="324.4" rx="2.8" ry="2.0" transform="rotate(89 337.0 324.4)" fill="#F8ECEF" opacity="1"/>
<ellipse cx="337.1" cy="330.0" rx="2.8" ry="2.0" transform="rotate(89 337.1 330.0)" fill="#F8ECEF" opacity="1"/>
<ellipse cx="337.2" cy="335.6" rx="2.8" ry="2.0" transform="rotate(90 337.2 335.6)" fill="#F8ECEF" opacity="1"/>
<ellipse cx="337.2" cy="341.2" rx="2.8" ry="2.0" transform="rotate(90 337.2 341.2)" fill="#F8ECEF" opacity="1"/>
<ellipse cx="337.2" cy="346.8" rx="2.8" ry="2.0" transform="rotate(90 337.2 346.8)" fill="#F8ECEF" opacity="1"/>
<ellipse cx="304.9" cy="352.2" rx="3.2" ry="3.5" transform="rotate(91 304.9 352.2)" fill="#F8ECEF" opacity="1"/>
<ellipse cx="304.8" cy="358.7" rx="3.2" ry="3.5" transform="rotate(91 304.8 358.7)" fill="#F8ECEF" opacity="1"/>
<ellipse cx="305.7" cy="365.2" rx="3.2" ry="3.5" transform="rotate(78 305.7 365.2)" fill="#F8ECEF" opacity="1"/>
<ellipse cx="307.0" cy="371.5" rx="3.2" ry="3.5" transform="rotate(36 307.0 371.5)" fill="#F8ECEF" opacity="1"/>
<ellipse cx="312.3" cy="375.3" rx="3.2" ry="3.5" transform="rotate(36 312.3 375.3)" fill="#F8ECEF" opacity="1"/>
<ellipse cx="313.5" cy="351.1" rx="3.0" ry="2.5" transform="rotate(32 313.5 351.1)" fill="#F8ECEF" opacity="1"/>
<ellipse cx="318.6" cy="354.3" rx="3.0" ry="2.5" transform="rotate(32 318.6 354.3)" fill="#F8ECEF" opacity="1"/>
<ellipse cx="324.0" cy="357.0" rx="3.0" ry="2.5" transform="rotate(27 324.0 357.0)" fill="#F8ECEF" opacity="1"/>
<path d="M284.5 368.4 C285.1 368.5 286.9 368.9 287.8 368.8 C288.7 368.7 289.9 368.0 289.8 367.6 C289.7 367.2 288.6 366.6 287.0 366.3 C285.4 366.0 282.1 366.6 280.5 365.8 C278.9 365.0 277.9 365.8 277.3 361.5 C276.8 357.2 277.2 346.6 277.2 340.0 C277.2 333.4 277.2 326.1 277.5 322.0 C277.8 317.9 278.1 317.0 279.0 315.5 C279.9 314.0 281.2 313.1 283.0 312.8 C284.8 312.5 287.6 313.4 290.0 313.6 C292.4 313.8 294.0 314.3 297.3 314.2 C300.6 314.1 305.9 313.6 310.0 313.0 C314.1 312.4 318.2 311.6 322.0 310.5 C325.8 309.4 330.2 307.8 333.0 306.5 C335.8 305.2 337.3 302.8 338.5 303.0 C339.7 303.2 339.8 303.5 340.2 308.0 C340.6 312.5 340.4 321.9 340.6 330.0 C340.8 338.1 342.0 351.1 341.2 356.5 C340.4 361.9 338.4 361.6 336.0 362.6 C333.6 363.6 329.8 363.5 327.0 362.5 C324.2 361.5 321.9 358.3 319.5 356.5 C317.1 354.7 314.6 352.1 312.8 351.6 C311.0 351.1 309.6 352.0 308.8 353.5 C308.0 355.0 308.2 357.2 308.1 360.8 C308.0 364.4 308.3 372.6 308.3 375.0" fill="none" stroke="#D9C6CB" stroke-width="2.0" stroke-linecap="round"/>
<path d="M284.5 368.4 C285.1 368.5 286.9 368.9 287.8 368.8 C288.7 368.7 289.9 368.0 289.8 367.6 C289.7 367.2 288.6 366.6 287.0 366.3 C285.4 366.0 282.1 366.6 280.5 365.8 C278.9 365.0 277.9 365.8 277.3 361.5 C276.8 357.2 277.2 346.6 277.2 340.0 C277.2 333.4 277.2 326.1 277.5 322.0 C277.8 317.9 278.1 317.0 279.0 315.5 C279.9 314.0 281.2 313.1 283.0 312.8 C284.8 312.5 287.6 313.4 290.0 313.6 C292.4 313.8 294.0 314.3 297.3 314.2 C300.6 314.1 305.9 313.6 310.0 313.0 C314.1 312.4 318.2 311.6 322.0 310.5 C325.8 309.4 330.2 307.8 333.0 306.5 C335.8 305.2 337.3 302.8 338.5 303.0 C339.7 303.2 339.8 303.5 340.2 308.0 C340.6 312.5 340.4 321.9 340.6 330.0 C340.8 338.1 342.0 351.1 341.2 356.5 C340.4 361.9 338.4 361.6 336.0 362.6 C333.6 363.6 329.8 363.5 327.0 362.5 C324.2 361.5 321.9 358.3 319.5 356.5 C317.1 354.7 314.6 352.1 312.8 351.6 C311.0 351.1 309.6 352.0 308.8 353.5 C308.0 355.0 308.2 357.2 308.1 360.8 C308.0 364.4 308.3 372.6 308.3 375.0" fill="none" stroke="#FFFFFF" stroke-width="1.0" stroke-linecap="round"/>
<path d="M0 0" fill="none" stroke="#D9C6CB" stroke-width="2.0" stroke-linecap="round"/>
<path d="M0 0" fill="none" stroke="#FFFFFF" stroke-width="1.0" stroke-linecap="round"/>
<path d="M300.7 287.6 C301.2 288.5 299.9 290.6 299.4 292.5 C298.9 294.4 298.5 297.8 297.8 299.0 C297.1 300.2 295.8 299.3 295.0 300.0 C294.2 300.7 293.1 301.7 292.8 303.0 C292.6 304.3 293.1 306.5 293.5 308.0 C293.9 309.5 294.8 310.2 295.5 312.0 C296.2 313.8 297.1 317.4 297.8 319.0 C298.6 320.6 298.9 321.1 300.0 321.7 C301.1 322.3 303.0 322.8 304.3 322.6 C305.6 322.4 306.2 320.9 307.6 320.4 C309.0 319.9 311.0 319.7 312.7 319.4 C314.4 319.1 316.2 319.1 317.9 318.8 C319.6 318.5 321.7 318.3 323.1 317.8 C324.5 317.3 325.3 316.4 326.3 315.9 C327.3 315.4 328.1 314.7 328.9 314.6 C329.6 314.5 330.4 314.6 330.8 315.2 C331.2 315.8 331.4 316.9 331.5 318.5 C331.6 320.1 330.8 322.8 331.1 324.9 C331.4 327.0 332.7 329.1 333.1 331.4 C333.5 333.7 333.3 336.2 333.4 338.5 C333.5 340.8 333.8 342.8 333.7 344.9 C333.6 347.0 333.2 349.8 332.7 351.4 C332.2 353.0 331.8 354.2 330.8 354.6 C329.8 355.0 328.1 354.9 326.9 353.9 C325.7 352.9 324.5 349.6 323.7 348.8 C322.9 348.1 322.7 349.6 321.8 349.4 C320.9 349.2 319.6 348.2 318.5 347.5 C317.4 346.8 316.9 345.5 315.3 344.9 C313.7 344.3 310.5 344.0 308.8 344.0 C307.1 344.0 305.6 344.1 304.9 344.7 C304.1 345.2 304.7 346.3 304.3 347.3 C303.9 348.3 302.8 349.0 302.4 350.5 C302.0 352.0 302.2 354.7 302.0 356.3 C301.8 357.9 301.7 359.3 301.1 360.2 C300.5 361.1 299.6 361.4 298.5 361.5 C297.4 361.6 295.7 361.2 294.6 360.8 C293.5 360.4 292.6 360.1 292.0 358.9 C291.4 357.7 291.6 355.1 290.7 353.7 C289.8 352.3 287.8 351.1 286.9 350.5 C286.0 349.9 285.8 350.8 285.6 349.8 C285.4 348.8 285.8 346.5 285.9 344.7 C286.0 342.9 286.6 341.7 286.5 338.9 C286.4 336.1 285.4 331.0 285.3 328.1 C285.2 325.2 285.1 323.9 285.6 321.7 C286.1 319.5 288.0 317.1 288.3 315.2 C288.6 313.3 287.6 312.4 287.2 310.5 C286.8 308.6 286.3 306.0 286.2 304.1 C286.1 302.2 286.1 300.7 286.5 298.9 C286.9 297.1 287.6 294.7 288.5 293.1 C289.4 291.5 290.4 290.2 291.7 289.2 C293.0 288.2 294.7 287.6 296.2 287.3 C297.7 287.0 300.2 286.7 300.7 287.6Z" fill="#F9EAEF" stroke="none"/>
<ellipse cx="301.3" cy="303.5" rx="3.4" ry="3.3" fill="#F7F2E2" stroke="#E9E3D3" stroke-width="0.6"/>
<path d="M300.7 287.6 C299.9 287.6 297.7 287.0 296.2 287.3 C294.7 287.6 293.0 288.2 291.7 289.2 C290.4 290.2 289.4 291.5 288.5 293.1 C287.6 294.7 286.9 297.1 286.5 298.9 C286.1 300.7 286.1 302.2 286.2 304.1 C286.3 306.0 286.8 308.7 287.2 310.5 C287.6 312.3 288.4 313.7 288.3 315.0 C288.2 316.3 286.9 317.4 286.5 318.5 C286.1 319.6 285.8 320.1 285.6 321.7 C285.4 323.3 285.4 326.2 285.3 328.1 C285.2 330.0 284.8 332.0 284.9 333.3 C285.0 334.6 285.9 335.3 286.2 336.2 C286.5 337.1 286.6 337.5 286.5 338.9 C286.4 340.3 286.0 342.9 285.9 344.7 C285.8 346.5 285.0 349.0 285.6 349.8 C286.2 350.6 288.1 349.5 289.5 349.5 C290.9 349.5 292.5 349.6 294.0 349.8 C295.5 350.0 297.2 350.6 298.5 350.5 C299.8 350.4 300.7 350.0 301.7 349.5 C302.7 349.0 303.8 348.1 304.3 347.3 C304.8 346.5 304.1 345.2 304.9 344.7 C305.6 344.1 307.5 344.1 308.8 344.0 C310.1 343.9 311.6 344.0 312.7 344.1 C313.8 344.2 314.3 344.3 315.3 344.9 C316.3 345.5 317.4 346.8 318.5 347.5 C319.6 348.2 320.9 349.2 321.8 349.4 C322.7 349.6 323.1 349.3 323.7 348.8 C324.3 348.3 325.2 347.1 325.6 346.2 C326.0 345.3 326.0 344.1 326.3 343.6 C326.6 343.1 327.1 343.1 327.3 343.0 M300.7 287.6 C300.5 288.4 299.9 290.7 299.4 292.5 C298.9 294.3 298.1 297.1 297.8 298.3 C297.5 299.5 297.8 299.8 297.5 299.9 C297.2 300.0 296.7 299.3 296.2 299.2 C295.7 299.1 294.9 299.1 294.3 299.5 C293.7 299.9 292.9 300.6 292.6 301.5 C292.3 302.4 292.4 303.5 292.6 304.7 C292.8 305.9 293.5 307.4 293.9 308.6 C294.3 309.8 294.8 310.7 295.2 311.8 C295.6 312.9 296.1 314.0 296.5 315.2 C296.9 316.4 297.2 318.0 297.8 319.1 C298.4 320.2 298.7 321.1 299.8 321.7 C300.9 322.3 303.0 322.5 304.3 322.6 C305.6 322.7 306.5 322.7 307.5 322.3 C308.5 321.9 309.2 320.9 310.1 320.4 C311.0 319.9 311.4 319.7 312.7 319.4 C314.0 319.1 316.2 319.1 317.9 318.8 C319.6 318.5 321.7 318.3 323.1 317.8 C324.5 317.3 325.3 316.4 326.3 315.9 C327.3 315.4 328.1 314.7 328.9 314.6 C329.6 314.5 330.4 314.6 330.8 315.2 C331.2 315.8 331.4 316.9 331.5 318.5 C331.6 320.1 331.0 323.2 331.1 324.9 C331.2 326.6 331.8 327.7 332.1 328.8 C332.4 329.9 333.1 330.6 333.1 331.4 C333.1 332.1 332.7 332.8 332.1 333.3 C331.5 333.8 330.6 334.1 329.5 334.3 C328.4 334.5 326.9 334.8 325.6 334.6 C324.3 334.4 322.7 333.7 321.8 333.3 C320.9 332.9 320.7 332.2 320.5 332.0 M297.5 299.9 C297.7 300.2 298.6 301.2 298.8 301.5 M320.5 319.1 C320.4 320.1 320.6 323.1 320.2 324.9 C319.8 326.7 318.1 328.8 317.9 330.1 C317.7 331.4 318.4 331.9 319.2 332.6 C319.9 333.3 321.2 334.0 322.4 334.3 C323.6 334.6 325.6 334.6 326.3 334.6 M326.9 336.8 C327.5 336.8 329.7 336.2 330.8 336.5 C331.9 336.8 332.9 337.1 333.4 338.5 C333.9 339.9 333.8 342.8 333.7 344.9 C333.6 347.0 333.2 349.8 332.7 351.4 C332.2 353.0 331.8 354.2 330.8 354.6 C329.8 355.0 328.0 354.4 326.9 353.9 C325.8 353.4 324.9 352.2 324.4 351.4 C323.9 350.5 323.8 349.2 323.7 348.8 M288.5 353.1 C288.9 353.2 290.2 353.2 290.7 353.7 C291.2 354.2 291.2 355.4 291.4 356.3 C291.6 357.2 291.5 358.1 292.0 358.9 C292.5 359.6 293.5 360.4 294.6 360.8 C295.7 361.2 297.4 361.6 298.5 361.5 C299.6 361.4 300.5 361.1 301.1 360.2 C301.7 359.3 301.8 357.9 302.0 356.3 C302.2 354.7 302.3 351.5 302.4 350.5 M290.1 321.7 C290.3 322.2 291.5 323.6 291.4 324.9 C291.3 326.2 289.8 328.6 289.5 329.4 M291.4 324.9 C292.1 325.1 294.3 326.1 295.9 326.2 C297.5 326.3 299.7 325.3 301.1 325.5 C302.5 325.7 303.4 327.4 304.3 327.5 C305.2 327.6 305.3 326.5 306.3 326.2 C307.3 325.9 308.9 325.6 310.2 325.5 C311.5 325.4 312.8 325.9 314.0 325.5 C315.2 325.1 316.7 324.1 317.3 323.0 C317.9 321.9 317.8 319.5 317.9 318.8 M295.9 326.8 C295.8 327.6 295.7 330.1 295.3 331.4 C294.9 332.7 293.9 333.8 293.3 334.6 C292.8 335.5 292.2 336.2 292.0 336.5 M296.5 330.7 C297.5 330.6 301.0 330.2 302.4 330.1 C303.8 330.0 303.9 329.9 305.0 330.1 C306.1 330.3 307.8 331.0 308.9 331.4 C310.0 331.8 311.5 331.8 311.5 332.6 C311.5 333.5 310.0 335.4 308.8 336.5 C307.6 337.6 305.4 338.2 304.3 339.1 C303.2 340.0 302.7 341.5 302.4 342.0 M286.9 336.9 C287.8 336.9 291.0 336.3 292.0 336.9 C293.0 337.4 292.9 339.3 292.7 340.2 C292.5 341.1 291.0 341.8 290.7 342.1 M292.7 336.5 C292.7 336.9 292.9 338.2 292.7 339.1 C292.5 340.0 291.6 341.5 291.4 342.0 M297.8 337.8 C298.4 337.8 300.7 337.4 301.1 337.8 C301.5 338.2 300.5 340.0 300.4 340.4 M308.2 328.1 C308.3 328.7 308.7 330.8 308.8 331.4 M323.7 317.8 C323.9 318.6 324.8 320.6 325.0 322.3 C325.2 324.0 325.4 326.9 325.0 328.1 C324.6 329.3 322.8 329.2 322.4 329.4 M325.0 328.1 C325.5 328.5 327.7 330.3 328.2 330.7 M317.9 332.6 C317.4 332.8 315.8 333.3 314.7 333.9 C313.6 334.4 312.4 335.1 311.5 335.9 C310.6 336.7 309.6 337.9 309.5 338.5 C309.4 339.1 310.2 339.9 310.8 339.7 C311.4 339.5 312.3 337.9 313.4 337.2 C314.5 336.4 316.1 336.0 317.3 335.2 C318.5 334.4 320.0 333.0 320.5 332.6 M305.0 335.2 C305.6 334.9 307.6 333.8 308.9 333.3 C310.2 332.8 312.1 332.2 312.7 332.0 M321.8 336.5 C321.5 337.0 320.5 338.9 319.8 339.7 C319.1 340.4 318.8 340.4 317.9 341.0 C317.0 341.6 315.2 343.2 314.7 343.6 M326.9 337.2 C326.4 337.7 324.7 339.4 323.7 340.4 C322.7 341.4 321.5 342.6 321.1 343.0 M326.3 343.6 C326.4 344.5 326.8 347.9 326.9 348.8 M295.9 335.6 C296.3 336.2 297.8 338.5 298.5 338.9 C299.2 339.3 299.8 338.0 300.4 338.2 C301.0 338.4 301.8 339.3 302.4 340.2 C303.0 341.1 304.0 342.9 304.3 343.4 M295.9 341.5 C295.8 342.2 295.6 344.7 295.3 346.0 C295.0 347.3 294.2 348.7 294.0 349.2 M296.5 346.6 C297.3 346.1 300.1 344.1 301.1 343.4 C302.1 342.6 302.2 342.3 302.4 342.1 M304.3 335.6 C304.2 336.0 303.9 337.4 303.6 338.2 C303.3 339.0 302.6 339.9 302.4 340.2 M308.8 338.9 C309.2 338.5 311.0 336.7 311.4 336.3 M292.7 353.1 C292.8 353.4 293.2 354.4 293.3 354.6 M329.5 337.8 C330.0 337.7 332.2 337.3 332.7 337.2 M287.5 341.0 C287.9 341.4 289.8 342.5 290.0 343.5 C290.2 344.5 289.2 346.4 289.0 347.0 M297.0 352.5 C297.1 353.2 297.0 356.0 297.5 357.0 C298.0 358.0 299.6 358.2 300.0 358.5 M326.0 339.0 C326.5 339.4 328.1 341.2 329.0 341.5 C329.9 341.8 331.1 340.7 331.5 340.5 M323.0 345.5 C322.6 345.2 320.9 343.8 320.5 343.5 M314.0 327.5 C314.3 327.9 315.7 329.6 316.0 330.0 M289.5 318.0 C290.1 317.8 292.4 316.8 293.0 316.5" fill="none" stroke="#E3152C" stroke-width="1.1" stroke-linecap="round" stroke-linejoin="round"/>
<g fill="none" stroke="#FFFFFF" stroke-width="3.6" opacity="0.6">
<path d="M248 145.5H279.5"/><path d="M229.2 162.5H296 C298.5 162.5 300 161.5 300.8 159.8"/><path d="M306.8 157.8H375.5"/><path d="M308 172.5H385.2"/><path d="M405.5 237.4H294.7V276"/><path d="M231.5 252.9H274.5L285.3 292.5"/><path d="M394.1 280.9H340.3"/><path d="M392.4 293.3H324.5"/><path d="M405.5 323.6H345"/><path d="M224.5 402.5H283.7V366.5"/><path d="M403.7 416.6H308.8V375.6"/><path d="M213.7 288.5H272.5L313.9 329.6"/>
</g>
<g fill="none" stroke-width="1.4">
<path d="M248 145.5H279.5" stroke="#262626"/>
<path d="M229.2 162.5H296 C298.5 162.5 300 161.5 300.8 159.8" stroke="#262626"/>
<path d="M306.8 157.8H375.5" stroke="#262626"/>
<path d="M308 172.5H385.2" stroke="#262626"/>
<path d="M405.5 237.4H294.7V276" stroke="#262626"/>
<path d="M231.5 252.9H274.5L285.3 292.5" stroke="#262626"/>
<path d="M394.1 280.9H340.3" stroke="#262626"/>
<path d="M392.4 293.3H324.5" stroke="#262626"/>
<path d="M405.5 323.6H345" stroke="#262626"/>
<path d="M224.5 402.5H283.7V366.5" stroke="#262626"/>
<path d="M403.7 416.6H308.8V375.6" stroke="#262626"/>
<path d="M213.7 288.5H272.5L313.9 329.6" stroke="#D5141D" stroke-width="1.55"/>
</g>
<path d="M307.4 85.8 C309.3 86.0 315.1 85.9 319.0 87.1 C322.9 88.3 327.2 90.4 330.6 92.9 C334.1 95.4 337.3 98.7 339.7 101.9 C342.1 105.1 343.7 109.1 344.8 112.3 C345.9 115.5 346.2 117.8 346.1 121.3 C346.1 124.8 345.7 129.1 344.5 133.0 C343.3 136.9 340.9 141.8 339.0 144.5 C337.1 147.2 334.5 148.2 333.0 149.5 C331.5 150.8 330.8 150.4 329.8 152.0 C328.8 153.6 327.3 156.9 326.8 159.2 C326.3 161.5 326.5 163.9 326.6 166.0 C326.7 168.1 326.8 169.9 327.5 171.5 C328.2 173.1 328.9 174.0 331.0 175.5 C333.1 177.0 336.4 178.8 340.0 180.6 C343.6 182.4 347.6 184.2 352.3 186.5 C357.0 188.8 364.6 192.3 368.4 194.5 C372.1 196.7 372.9 197.2 374.8 199.4 C376.7 201.6 378.5 204.2 379.7 207.4 C380.9 210.6 381.5 213.8 382.1 218.7 C382.7 223.5 383.0 230.4 383.4 236.5 C383.8 242.6 384.0 248.8 384.2 255.0 C384.4 261.2 384.8 269.1 384.5 274.0 C384.2 278.9 382.8 282.1 382.6 284.7 C382.5 287.3 383.3 287.2 383.6 289.5 C383.9 291.8 384.4 293.3 384.5 298.4 C384.6 303.5 384.4 312.4 384.5 320.0 C384.6 327.6 384.9 337.1 385.3 344.2 C385.7 351.3 386.6 357.6 386.8 362.9 C387.1 368.2 387.2 371.7 386.8 375.8 C386.4 379.9 385.6 383.9 384.2 387.4 C382.8 390.8 380.7 394.0 378.4 396.5 C376.1 399.0 372.5 401.5 370.6 402.6 C368.7 403.7 367.9 403.3 366.8 402.9 C365.7 402.5 364.4 401.6 364.2 400.3 C364.0 399.0 364.6 397.1 365.5 395.2 C366.4 393.3 368.1 390.8 369.4 388.7 C370.7 386.6 372.3 384.4 373.2 382.3 C374.1 380.2 374.3 377.6 374.5 375.8 C374.7 374.0 374.6 372.1 374.2 371.5 C373.8 370.9 373.2 371.3 372.4 372.2 C371.6 373.1 370.4 376.2 369.4 377.1 C368.3 378.0 366.9 378.6 366.1 377.7 C365.3 376.8 364.7 374.7 364.8 372.0 C364.9 369.3 366.0 365.4 366.8 361.6 C367.6 357.8 369.3 353.2 369.6 349.0 C369.9 344.8 369.3 340.1 368.4 336.1 C367.5 332.1 365.6 329.9 364.4 325.0 C363.2 320.1 361.9 311.8 361.1 306.5 C360.3 301.2 360.0 299.4 359.5 293.5 C359.0 287.6 358.4 276.0 357.9 271.0 C357.4 266.0 356.6 264.9 356.3 263.7 L356.3 263.7 C355.9 266.0 354.6 272.4 353.9 277.4 C353.2 282.4 352.3 288.6 352.3 293.5 C352.3 298.4 352.8 301.2 353.9 306.5 C355.0 311.8 357.8 318.7 358.7 325.0 C359.6 331.3 359.1 337.0 359.5 344.2 C359.9 351.4 360.9 361.8 361.1 368.4 C361.4 374.9 361.1 380.6 361.0 383.5 C360.9 386.4 361.3 378.5 360.5 386.0 C359.7 393.5 356.8 421.6 356.1 428.7 L315.3 428.5 L312.0 400.0 L310.0 388.0 L307.7 384.4 L305.6 386.3 L304.5 400.0 L303.2 428.5 M264.5 299.5 C264.6 298.6 265.0 296.2 265.3 294.4 C265.6 292.5 266.1 290.5 266.1 288.4 C266.2 286.2 266.0 284.1 265.6 281.5 C265.2 278.9 264.5 275.9 263.9 272.9 C263.3 269.9 262.5 265.0 262.2 263.4 L262.2 263.4 C262.1 265.7 261.7 273.0 261.3 277.2 C260.9 281.4 260.4 284.6 260.0 288.4 C259.6 292.2 259.9 294.7 258.6 300.0 C257.4 305.3 254.2 314.7 252.5 320.0 C250.8 325.3 249.6 326.1 248.5 332.0 C247.4 337.9 245.9 349.8 245.9 355.2 C245.9 360.6 247.7 361.3 248.5 364.2 C249.3 367.1 250.7 370.4 251.0 372.6 C251.3 374.9 250.9 376.7 250.4 377.7 C249.9 378.7 248.8 379.1 247.8 378.4 C246.8 377.6 245.6 374.7 244.6 373.2 C243.6 371.7 242.8 369.6 242.0 369.4 C241.2 369.2 240.4 370.6 240.1 371.9 C239.8 373.2 239.7 375.0 240.1 377.1 C240.5 379.2 241.4 382.2 242.6 384.8 C243.8 387.4 246.0 390.5 247.2 392.6 C248.4 394.8 249.3 396.2 249.7 397.7 C250.1 399.2 250.2 400.7 249.7 401.6 C249.2 402.5 247.9 403.2 246.5 402.9 C245.1 402.6 243.3 401.4 241.4 399.7 C239.5 398.0 236.9 395.3 234.9 392.6 C232.9 389.9 230.9 386.7 229.7 383.5 C228.5 380.3 228.0 377.1 227.8 373.2 C227.6 369.3 228.2 364.2 228.5 360.3 C228.8 356.4 229.4 352.7 229.7 350.0 C230.0 347.3 230.1 349.2 230.5 344.2 C230.9 339.2 231.4 327.6 232.1 320.0 C232.8 312.4 233.8 304.7 234.5 298.4 C235.2 292.1 235.8 290.4 236.1 282.3 C236.4 274.2 236.1 258.2 236.1 250.0 C236.1 241.8 235.8 238.1 236.1 233.2 C236.4 228.2 237.1 224.1 237.7 220.3 C238.2 216.5 238.6 213.6 239.4 210.6 C240.2 207.6 241.0 205.0 242.6 202.6 C244.2 200.2 246.1 198.2 249.0 196.1 C251.9 193.9 256.8 191.1 260.3 189.7 C263.8 188.2 266.5 188.5 270.0 187.4 C273.5 186.3 278.1 184.6 281.3 182.9 C284.5 181.2 287.5 179.2 289.2 177.3 C290.9 175.4 291.2 173.7 291.5 171.6 C291.8 169.5 291.7 166.3 291.2 165.0 C290.7 163.7 290.0 164.2 288.6 163.6 C287.2 163.0 284.6 162.3 283.0 161.5 C281.4 160.7 279.7 159.8 278.8 158.7 C277.9 157.6 277.9 156.4 277.4 155.2 C276.9 154.0 276.2 152.9 276.0 151.7 C275.8 150.5 275.8 149.1 276.0 148.2 C276.2 147.3 277.5 146.6 277.4 146.1 C277.3 145.6 275.7 145.9 275.3 145.4 C274.9 144.9 274.8 144.1 274.9 143.3 C275.0 142.5 275.9 141.3 276.0 140.5 C276.1 139.7 275.8 138.9 275.3 138.4 C274.8 137.9 274.0 138.0 273.2 137.7 C272.4 137.4 271.0 137.2 270.4 136.6 C269.8 136.0 269.3 135.3 269.7 134.2 C270.1 133.1 271.4 131.4 272.5 130.0 C273.6 128.6 275.1 127.4 276.0 125.9 C276.9 124.4 278.0 122.5 278.1 121.0 C278.2 119.5 277.0 118.9 276.7 116.8 C276.4 114.7 276.0 111.1 276.5 108.4 C277.0 105.7 278.0 103.2 279.7 100.6 C281.4 98.0 284.1 95.1 286.8 92.9 C289.5 90.8 292.4 88.9 295.8 87.7 C299.2 86.5 305.5 86.1 307.4 85.8" fill="none" stroke="#3a3a3a" stroke-width="1.15" stroke-linejoin="round"/>
<path d="M303.2 428.5 L258.7 428.5 C258.3 422.5 256.7 401.4 256.2 392.6 C255.7 383.8 255.7 381.2 255.5 375.8 C255.3 370.4 255.0 366.3 255.2 360.3 C255.4 354.3 256.3 345.3 256.8 340.0 C257.3 334.7 257.5 331.6 258.1 328.4 C258.7 325.2 260.2 323.5 260.6 320.6 C261.0 317.7 260.1 314.7 260.7 311.2 C261.3 307.7 263.9 301.4 264.5 299.5" fill="none" stroke="#666666" stroke-width="1.0" stroke-linejoin="round"/>
<path d="M234.9 296.0 C235.1 293.7 235.9 290.0 236.1 282.3 C236.3 274.6 236.1 258.2 236.1 250.0 C236.1 241.8 235.8 238.1 236.1 233.2 C236.4 228.2 237.1 224.1 237.7 220.3 C238.2 216.5 238.8 213.0 239.4 210.6 C240.0 208.2 240.9 206.8 241.2 206.0" fill="none" stroke="#858585" stroke-width="1.45" stroke-linecap="round"/>
<g font-family="Liberation Sans" font-weight="bold" font-size="11" stroke-width="0.25" stroke-linejoin="round">
<text x="211.00" y="149.30" textLength="32.90" lengthAdjust="spacingAndGlyphs" fill="#1a1a1a" stroke="#1a1a1a">mouth</text>
<text x="177.80" y="166.00" textLength="48.20" lengthAdjust="spacingAndGlyphs" fill="#1a1a1a" stroke="#1a1a1a">epiglottis</text>
<text x="379.40" y="161.70" textLength="43.60" lengthAdjust="spacingAndGlyphs" fill="#1a1a1a" stroke="#1a1a1a">pharynx</text>
<text x="389.60" y="175.80" textLength="58.80" lengthAdjust="spacingAndGlyphs" fill="#1a1a1a" stroke="#1a1a1a">esophagus</text>
<text x="167.70" y="256.10" textLength="61.70" lengthAdjust="spacingAndGlyphs" fill="#1a1a1a" stroke="#1a1a1a">gallbladder</text>
<text x="182.20" y="290.60" textLength="27.60" lengthAdjust="spacingAndGlyphs" fill="#D7141E" stroke="#D7141E">small</text>
<text x="174.00" y="302.60" textLength="43.60" lengthAdjust="spacingAndGlyphs" fill="#D7141E" stroke="#D7141E">intestine</text>
<text x="165.00" y="316.70" textLength="65.80" lengthAdjust="spacingAndGlyphs" fill="#1a1a1a" stroke="#1a1a1a">(duodenum,</text>
<text x="175.20" y="330.40" textLength="45.90" lengthAdjust="spacingAndGlyphs" fill="#1a1a1a" stroke="#1a1a1a">jejunum,</text>
<text x="167.10" y="344.90" textLength="57.30" lengthAdjust="spacingAndGlyphs" fill="#1a1a1a" stroke="#1a1a1a">and ileum)</text>
<text x="170.50" y="406.60" textLength="51.10" lengthAdjust="spacingAndGlyphs" fill="#1a1a1a" stroke="#1a1a1a">appendix</text>
<text x="410.10" y="240.80" textLength="21.20" lengthAdjust="spacingAndGlyphs" fill="#1a1a1a" stroke="#1a1a1a">liver</text>
<text x="397.70" y="283.50" textLength="46.30" lengthAdjust="spacingAndGlyphs" fill="#1a1a1a" stroke="#1a1a1a">stomach</text>
<text x="396.00" y="295.90" textLength="50.60" lengthAdjust="spacingAndGlyphs" fill="#1a1a1a" stroke="#1a1a1a">pancreas</text>
<text x="406.90" y="328.40" textLength="27.50" lengthAdjust="spacingAndGlyphs" fill="#1a1a1a" stroke="#1a1a1a">large</text>
<text x="398.60" y="341.00" textLength="43.90" lengthAdjust="spacingAndGlyphs" fill="#1a1a1a" stroke="#1a1a1a">Intestine</text>
<text x="397.70" y="354.70" textLength="43.90" lengthAdjust="spacingAndGlyphs" fill="#1a1a1a" stroke="#1a1a1a">(cecum,</text>
<text x="393.80" y="368.10" textLength="57.30" lengthAdjust="spacingAndGlyphs" fill="#1a1a1a" stroke="#1a1a1a">colon, and</text>
<text x="402.90" y="380.50" textLength="43.00" lengthAdjust="spacingAndGlyphs" fill="#1a1a1a" stroke="#1a1a1a">rectum)</text>
<text x="406.90" y="418.60" textLength="24.40" lengthAdjust="spacingAndGlyphs" fill="#1a1a1a" stroke="#1a1a1a">anus</text>
</g>
</svg>
</body></html>
